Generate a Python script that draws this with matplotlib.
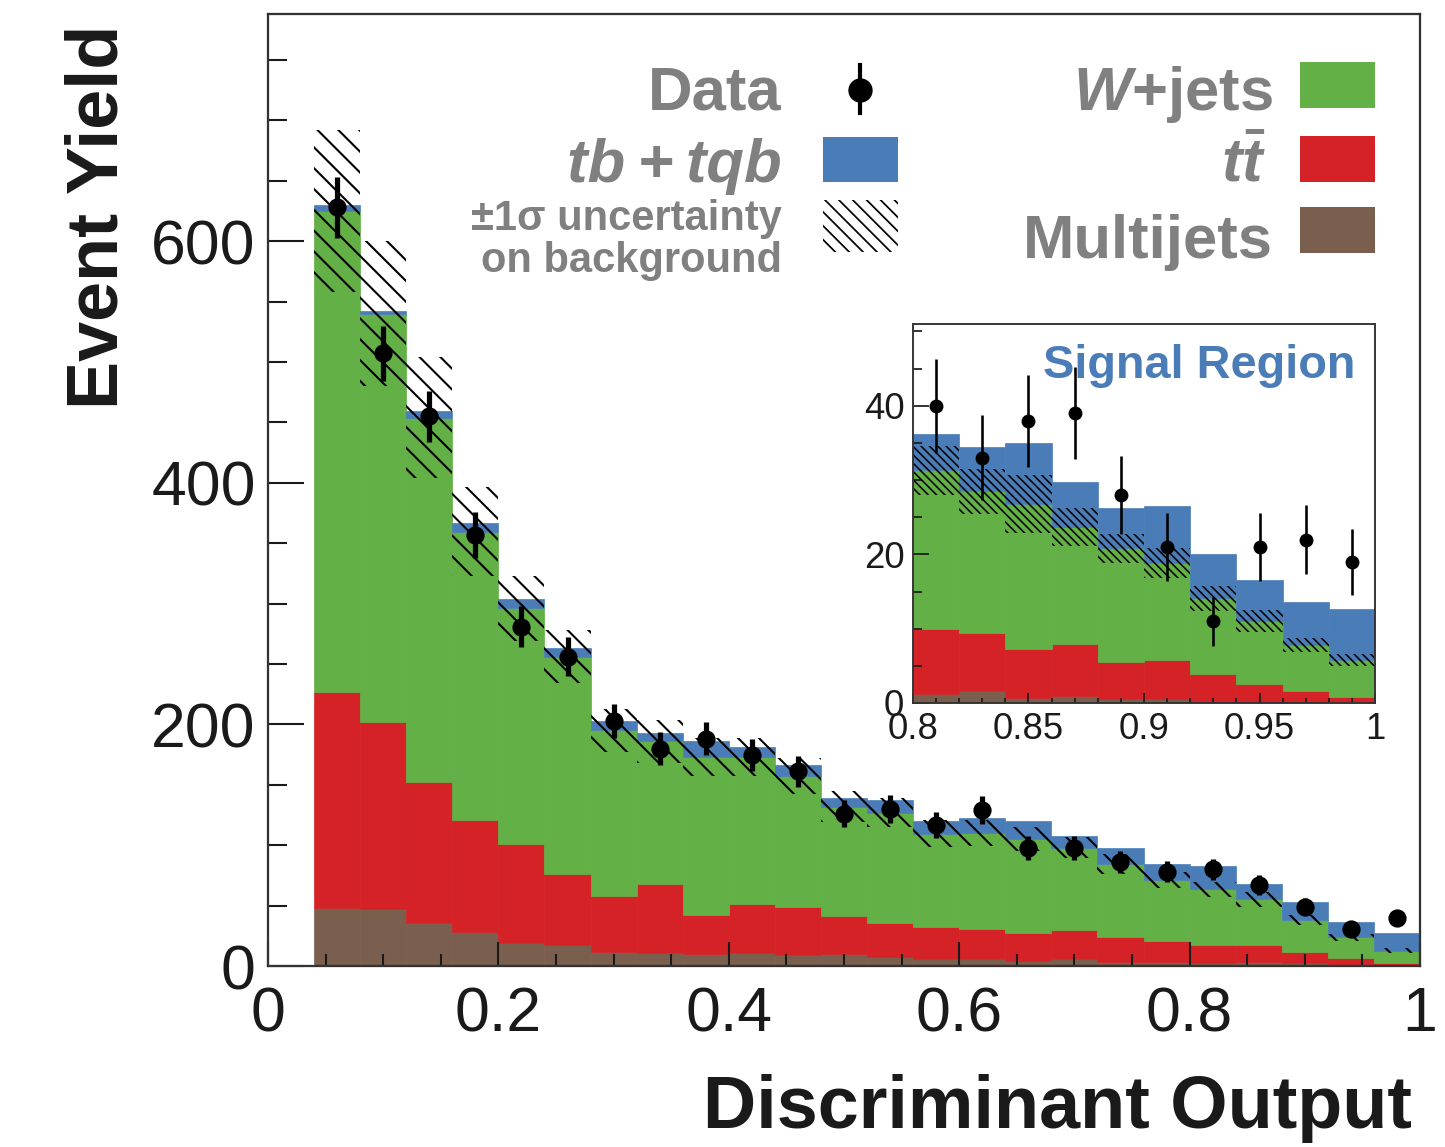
import matplotlib
matplotlib.use("Agg")
import matplotlib.pyplot as plt
import numpy as np
from matplotlib.patches import Rectangle
from matplotlib.lines import Line2D
from matplotlib.ticker import MultipleLocator

W, H, DPI = 1445, 1147, 125

plt.rcParams['font.family'] = ['Liberation Sans', 'DejaVu Sans']
plt.rcParams['mathtext.fontset'] = 'custom'
plt.rcParams['mathtext.it'] = 'Liberation Sans:italic:bold'
plt.rcParams['mathtext.rm'] = 'Liberation Sans:bold'
plt.rcParams['mathtext.bf'] = 'Liberation Sans:bold'
plt.rcParams['hatch.linewidth'] = 1.2

#### colours
c_sig = '#4a7db8'
c_wjets = '#62b046'
c_ttbar = '#d42227'
c_multi = '#7b5f4e'
c_grey = '#808080'
c_text = '#1a1a1a'

#### main histogram : 24 bins of width 0.04
main_centers = [0.06, 0.10, 0.14, 0.18, 0.22, 0.26, 0.30, 0.34, 0.38, 0.42, 0.46, 0.50,
                0.54, 0.58, 0.62, 0.66, 0.70, 0.74, 0.78, 0.82, 0.86, 0.90, 0.94, 0.98]
main_multijets = [48.3, 46.9, 35.3, 28.4, 18.8, 17.1, 11.8, 11.0, 9.9, 10.5, 9.1, 9.9,
                  7.2, 5.5, 5.5, 4.4, 5.5, 3.6, 3.6, 2.8, 3.6, 2.2, 1.6, 0.8]
main_ttbar = [178.3, 154.8, 116.7, 92.5, 82.2, 58.9, 46.2, 56.9, 32.3, 40.8, 39.5, 31.8,
              28.7, 27.1, 24.8, 22.6, 24.3, 20.0, 17.4, 14.6, 13.8, 9.6, 4.8, 1.4]
main_wjets = [398.4, 338.3, 302.0, 238.6, 195.0, 180.0, 137.0, 118.1, 130.8, 121.7, 108.9, 90.3,
              91.1, 76.9, 79.7, 78.0, 68.2, 60.8, 50.2, 46.1, 37.8, 26.3, 17.4, 10.5]
main_signal = [5.0, 2.0, 5.0, 7.5, 8.0, 7.5, 8.0, 6.5, 13.5, 8.6, 9.0, 7.4,
               10.3, 10.2, 12.5, 15.4, 9.4, 13.0, 13.2, 19.3, 12.7, 14.6, 12.9, 14.4]
main_bkg_unc = [67, 60, 50, 37, 27, 22, 18, 18, 16, 16, 15, 13,
                12, 11, 11, 10, 9, 8, 7, 6, 6, 4, 3, 2]
main_data = [628, 507, 455, 357, 281, 256, 203, 180, 188, 175, 161, 126,
             130, 117, 129, 98, 98, 86, 78, 80, 67, 49, 31, 40]
main_data_err = [25.0, 22.5, 21.3, 18.9, 16.8, 16.0, 14.2, 13.4, 13.7, 13.2, 12.7, 11.2,
                 11.4, 10.8, 11.4, 9.9, 9.9, 9.3, 8.8, 8.9, 8.2, 7.0, 5.6, 6.3]

#### inset : signal region, 10 bins of width 0.02
ins_centers = [0.81, 0.83, 0.85, 0.87, 0.89, 0.91, 0.93, 0.95, 0.97, 0.99]
ins_multijets = [1.25, 1.6, 0.7, 1.0, 0.5, 0.5, 0.2, 0.1, 0.05, 0.0]
ins_ttbar = [8.65, 7.8, 6.6, 7.0, 5.0, 5.3, 3.7, 2.5, 1.55, 0.8]
ins_wjets = [21.4, 19.1, 19.5, 15.7, 15.3, 13.0, 10.2, 8.4, 6.2, 5.0]
ins_signal = [4.9, 6.0, 8.2, 6.0, 5.5, 7.7, 5.9, 5.6, 5.8, 6.8]
ins_bkg_unc = [3.3, 3.0, 3.9, 2.6, 2.0, 2.0, 1.7, 1.5, 1.0, 0.8]
ins_data = [40, 33, 38, 39, 28, 21, 11, 21, 22, 19]
ins_data_err = [6.3, 5.7, 6.2, 6.2, 5.3, 4.6, 3.3, 4.6, 4.7, 4.4]


def fx(px):
    return px / W


def fy(py):
    return 1 - py / H


def draw_stack(a, centers, width, parts, unc, hatch):
    bottom = np.zeros(len(centers))
    for vals, col in parts:
        a.bar(centers, vals, width=width, bottom=bottom, color=col,
              edgecolor=col, linewidth=0.4, align='center', zorder=1)
        bottom = bottom + np.array(vals)
    bkg = np.array(parts[0][0]) + np.array(parts[1][0]) + np.array(parts[2][0])
    unc = np.array(unc)
    a.bar(centers, 2 * unc, width=width, bottom=bkg - unc, fill=False,
          hatch=hatch, edgecolor='black', linewidth=0, zorder=2)


fig = plt.figure(figsize=(W / DPI, H / DPI), dpi=DPI)

# ---- main plot
ax = fig.add_axes([fx(268), fy(966), fx(1420) - fx(268), fy(14) - fy(966)])
draw_stack(ax, main_centers, 0.04,
           [(main_multijets, c_multi), (main_ttbar, c_ttbar),
            (main_wjets, c_wjets), (main_signal, c_sig)],
           main_bkg_unc, '\\' * 2)
ax.errorbar(main_centers, main_data, yerr=main_data_err, fmt='o', color='black',
            ms=9.5, elinewidth=3, capsize=0, zorder=5)
ax.set_xlim(0, 1)
ax.set_ylim(0, 788)
ax.set_xticks([0, 0.2, 0.4, 0.6, 0.8, 1.0])
ax.set_xticklabels(['0', '0.2', '0.4', '0.6', '0.8', '1'])
ax.set_yticks([0, 200, 400, 600])
ax.set_yticklabels(['0', '200', '400', '600'])
ax.xaxis.set_minor_locator(MultipleLocator(0.05))
ax.yaxis.set_minor_locator(MultipleLocator(50))
ax.tick_params(which='both', direction='in', top=False, right=False, colors=c_text)
ax.tick_params(axis='x', which='major', length=14, width=1.2, pad=11, labelsize=36)
ax.tick_params(axis='x', which='minor', length=7, width=1.2)
ax.tick_params(axis='y', which='major', length=21, width=1.2, pad=7, labelsize=36)
ax.tick_params(axis='y', which='minor', length=11, width=1.2)
for s in ax.spines.values():
    s.set_linewidth(1.3)
    s.set_color('#333333')

fig.text(fx(118), fy(25), 'Event Yield', rotation=90, rotation_mode='anchor',
         ha='right', va='baseline', fontsize=41.5, fontweight='bold', color=c_text)
fig.text(fx(1412), fy(1128), 'Discriminant Output', ha='right', va='baseline',
         fontsize=42.5, fontweight='bold', color=c_text)

# ---- legend
fig.text(fx(782), fy(110), 'Data', ha='right', va='baseline', fontsize=35.5,
         fontweight='bold', color=c_grey)
fig.text(fx(782), fy(182), 'tb\u2009+\u2009tqb', ha='right', va='baseline', fontsize=35.5,
         fontweight='bold', fontstyle='italic', color=c_grey)
fig.text(fx(782), fy(230), '±1σ uncertainty', ha='right', va='baseline', fontsize=24,
         fontweight='bold', color=c_grey)
fig.text(fx(782), fy(272), 'on background', ha='right', va='baseline', fontsize=24,
         fontweight='bold', color=c_grey)
fig.text(fx(1273), fy(110), '$W$+jets', ha='right', va='baseline', fontsize=35.5,
         fontweight='bold', color=c_grey)
fig.text(fx(1266), fy(182), r'$t\bar{t}$', ha='right', va='baseline', fontsize=35.5,
         fontweight='bold', color=c_grey)
fig.text(fx(1273), fy(258), 'Multijets', ha='right', va='baseline', fontsize=35.5,
         fontweight='bold', color=c_grey)

swatches = [(823, 137, 898, 182, c_sig), (1300, 62, 1375, 108, c_wjets),
            (1300, 136, 1375, 182, c_ttbar), (1300, 207, 1375, 253, c_multi)]
for x0, y0, x1, y1, col in swatches:
    fig.add_artist(Rectangle((fx(x0), fy(y1)), fx(x1) - fx(x0), fy(y0) - fy(y1),
                             transform=fig.transFigure, facecolor=col, edgecolor='none'))
plt.rcParams['hatch.linewidth'] = 1.0
fig.add_artist(Rectangle((fx(823), fy(252)), fx(898) - fx(823), fy(200) - fy(252),
                         transform=fig.transFigure, fill=False, hatch='\\' * 3,
                         edgecolor='black', linewidth=0))
fig.add_artist(Line2D([fx(860), fx(860)], [fy(65), fy(113)], transform=fig.transFigure,
                      color='black', lw=2.4))
fig.add_artist(Line2D([fx(860)], [fy(90)], transform=fig.transFigure, color='black',
                      marker='o', ms=13))

# ---- inset (signal region)
plt.rcParams['hatch.linewidth'] = 0.9
axin = fig.add_axes([fx(913), fy(703), fx(1375) - fx(913), fy(324) - fy(703)])
draw_stack(axin, ins_centers, 0.02,
           [(ins_multijets, c_multi), (ins_ttbar, c_ttbar),
            (ins_wjets, c_wjets), (ins_signal, c_sig)],
           ins_bkg_unc, '\\' * 5)
axin.errorbar(ins_centers, ins_data, yerr=ins_data_err, fmt='o', color='black',
              ms=7, elinewidth=1.5, capsize=0, zorder=5)
axin.set_xlim(0.8, 1.0)
axin.set_ylim(0, 51)
axin.set_xticks([0.8, 0.85, 0.9, 0.95, 1.0])
axin.set_xticklabels(['0.8', '0.85', '0.9', '0.95', '1'])
axin.set_yticks([0, 20, 40])
axin.set_yticklabels(['0', '20', '40'])
axin.xaxis.set_minor_locator(MultipleLocator(0.01))
axin.yaxis.set_minor_locator(MultipleLocator(5))
axin.tick_params(which='both', direction='in', top=False, right=False, colors=c_text,
                 labelsize=21)
axin.tick_params(axis='x', which='major', length=6, width=1.0, pad=5)
axin.tick_params(axis='x', which='minor', length=3, width=1.0)
axin.tick_params(axis='y', which='major', length=9, width=1.0, pad=5)
axin.tick_params(axis='y', which='minor', length=5, width=1.0)
for s in axin.spines.values():
    s.set_linewidth(1.1)
    s.set_color('#333333')
fig.text(fx(1355), fy(378), 'Signal Region', ha='right', va='baseline', fontsize=27,
         fontweight='bold', color=c_sig)

fig.savefig('out.png', dpi=DPI)
